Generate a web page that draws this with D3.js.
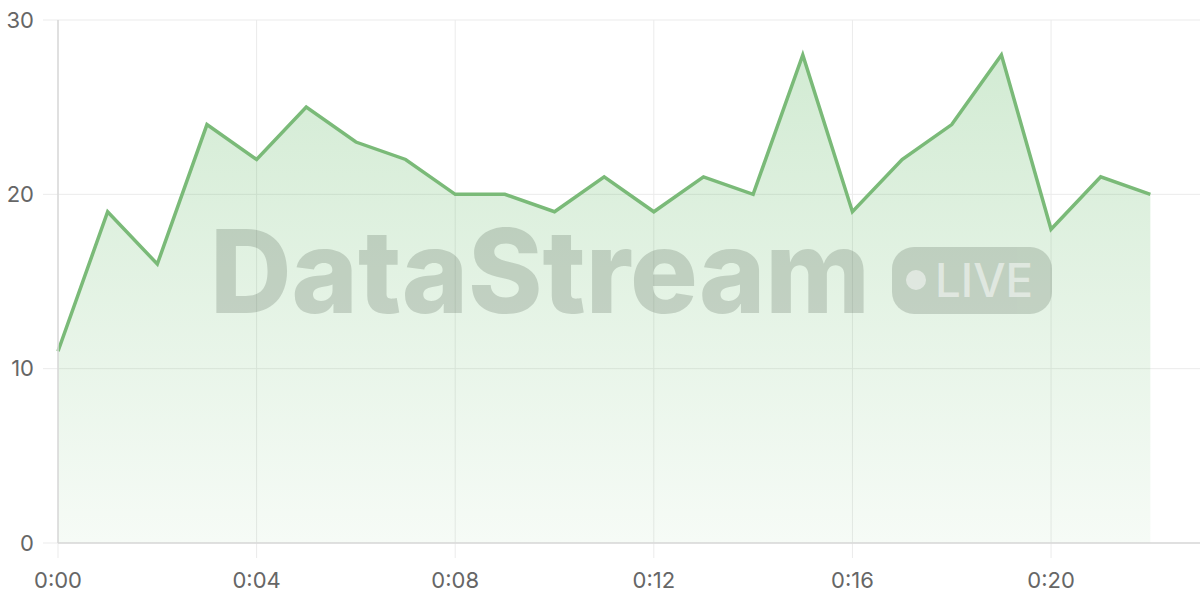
<!DOCTYPE html>
<html>
<head>
<meta charset="utf-8">
<script src="https://cdn.jsdelivr.net/npm/d3@7/dist/d3.min.js"></script>
<style>
    body { margin: 0; background: #fff; }
    svg { display: block; font-family: Inter, "Open Sans", sans-serif; }
</style>
</head>
<body>
<div id="chart"></div>
<script>
    // minutes since start, one point per minute
    var minutes = [0, 1, 2, 3, 4, 5, 6, 7, 8, 9, 10, 11, 12, 13, 14, 15, 16, 17, 18, 19, 20, 21, 22];
    var values = [11, 19, 16, 24, 22, 25, 23, 22, 20, 20, 19, 21, 19, 21, 20, 28, 19, 22, 24, 28, 18, 21, 20];
    var xTicks = [0, 4, 8, 12, 16, 20];
    var yTicks = [0, 10, 20, 30];

    var width = 1200, height = 600;
    var margin = { top: 20, right: 0, bottom: 57, left: 58 };

    var svg = d3.select('#chart').append('svg')
        .attr('width', width)
        .attr('height', height);

    var x = d3.scaleLinear()
        .domain([0, 23])
        .range([margin.left, width - margin.right]);

    var y = d3.scaleLinear()
        .domain([0, 30])
        .range([height - margin.bottom, margin.top]);

    var fmt = m => Math.floor(m / 60) + ':' + String(m % 60).padStart(2, '0');

    // gradient for the area
    var grad = svg.append('defs').append('linearGradient')
        .attr('id', 'fillGrad')
        .attr('x1', 0).attr('y1', 0).attr('x2', 0).attr('y2', 1);
    grad.append('stop').attr('offset', '0%').attr('stop-color', '#4caf50').attr('stop-opacity', 0.25);
    grad.append('stop').attr('offset', '100%').attr('stop-color', '#4caf50').attr('stop-opacity', 0.05);

    // grid
    svg.append('g')
        .selectAll('line')
        .data(yTicks)
        .join('line')
        .attr('x1', margin.left - 15)
        .attr('x2', width)
        .attr('y1', d => y(d))
        .attr('y2', d => y(d))
        .attr('stroke', '#ebebeb')
        .attr('stroke-width', 1);

    svg.append('g')
        .selectAll('line')
        .data(xTicks)
        .join('line')
        .attr('x1', d => x(d))
        .attr('x2', d => x(d))
        .attr('y1', margin.top)
        .attr('y2', height - margin.bottom + 15)
        .attr('stroke', '#ebebeb')
        .attr('stroke-width', 1);

    var pts = minutes.map((m, i) => ({ m: m, v: values[i] }));

    var area = d3.area()
        .x(d => x(d.m))
        .y0(y(0))
        .y1(d => y(d.v));

    var line = d3.line()
        .x(d => x(d.m))
        .y(d => y(d.v));

    svg.append('path')
        .datum(pts)
        .attr('d', area)
        .attr('fill', 'url(#fillGrad)');

    // watermark
    var wm = svg.append('g').attr('opacity', 0.22);
    wm.append('text')
        .attr('x', 210)
        .attr('y', 313)
        .attr('font-family', 'Inter, "Open Sans", sans-serif')
        .attr('font-weight', 800)
        .attr('font-size', 116)
        .attr('textLength', 660)
        .attr('lengthAdjust', 'spacingAndGlyphs')
        .attr('fill', '#4a5a4a')
        .text('DataStream');
    wm.append('rect')
        .attr('x', 892).attr('y', 247)
        .attr('width', 160).attr('height', 67)
        .attr('rx', 22)
        .attr('fill', '#4a5a4a');
    var badge = svg.append('g').attr('opacity', 0.5);
    badge.append('circle')
        .attr('cx', 916).attr('cy', 280).attr('r', 10)
        .attr('fill', '#fff');
    badge.append('text')
        .attr('x', 935)
        .attr('y', 297)
        .attr('font-family', 'Inter, "Open Sans", sans-serif')
        .attr('font-weight', 500)
        .attr('font-size', 46)
        .attr('textLength', 98)
        .attr('lengthAdjust', 'spacingAndGlyphs')
        .attr('fill', '#fff')
        .text('LIVE');

    svg.append('path')
        .datum(pts)
        .attr('d', line)
        .attr('fill', 'none')
        .attr('stroke', '#7aba78')
        .attr('stroke-width', 3.5)
        .attr('stroke-linejoin', 'miter');

    // axis lines
    svg.append('line')
        .attr('x1', margin.left).attr('x2', width)
        .attr('y1', y(0)).attr('y2', y(0))
        .attr('stroke', '#d9d9d9').attr('stroke-width', 1.5);
    svg.append('line')
        .attr('x1', margin.left).attr('x2', margin.left)
        .attr('y1', margin.top).attr('y2', y(0))
        .attr('stroke', '#d9d9d9').attr('stroke-width', 1.5);

    // tick labels
    svg.append('g')
        .selectAll('text')
        .data(yTicks)
        .join('text')
        .attr('x', 34)
        .attr('y', d => y(d))
        .attr('dy', '0.35em')
        .attr('text-anchor', 'end')
        .attr('font-size', 22)
        .attr('fill', '#666')
        .text(d => d);

    svg.append('g')
        .selectAll('text')
        .data(xTicks)
        .join('text')
        .attr('x', d => x(d))
        .attr('y', 588)
        .attr('text-anchor', 'middle')
        .attr('font-size', 22)
        .attr('fill', '#666')
        .text(d => fmt(d));
</script>
</body>
</html>
